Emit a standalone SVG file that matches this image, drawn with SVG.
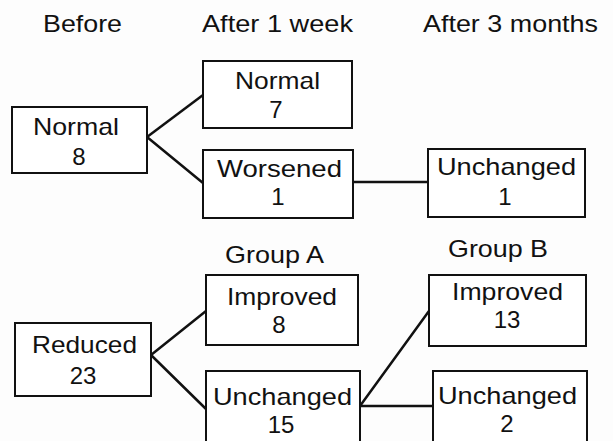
<svg xmlns="http://www.w3.org/2000/svg" width="613" height="441" viewBox="0 0 613 441">
  <style>
    text { font-family: "Liberation Sans", Arial, Helvetica, sans-serif; font-size: 24px; fill: #111; }
    .w { text-anchor: start; }
    .n { text-anchor: middle; }
    .box { fill: #fff; stroke: #111; stroke-width: 2; }
    .conn { stroke: #111; stroke-width: 2.5; fill: none; stroke-linecap: round; }
  </style>
  <rect x="0" y="0" width="613" height="441" fill="#fdfdfd"/>
  <g id="headers">
    <text class="w" x="43" y="32" textLength="79" lengthAdjust="spacingAndGlyphs">Before</text>
    <text class="w" x="202" y="32" textLength="151" lengthAdjust="spacingAndGlyphs">After 1 week</text>
    <text class="w" x="423" y="32" textLength="175" lengthAdjust="spacingAndGlyphs">After 3 months</text>
    <text class="w" x="225" y="263" textLength="99" lengthAdjust="spacingAndGlyphs">Group A</text>
    <text class="w" x="448" y="257" textLength="100" lengthAdjust="spacingAndGlyphs">Group B</text>
  </g>
  <g id="connectors">
    <line class="conn" x1="147" y1="137" x2="203" y2="95"/>
    <line class="conn" x1="147" y1="137" x2="203" y2="183"/>
    <line class="conn" x1="353" y1="182" x2="428" y2="182"/>
    <line class="conn" x1="151" y1="355" x2="206" y2="311"/>
    <line class="conn" x1="151" y1="355" x2="206" y2="409"/>
    <line class="conn" x1="360" y1="406" x2="429" y2="311"/>
    <line class="conn" x1="360" y1="406" x2="433" y2="406"/>
  </g>
  <g id="normal8">
    <rect class="box" x="12" y="107" width="135" height="66"/>
    <text class="w" x="33" y="135" textLength="86" lengthAdjust="spacingAndGlyphs">Normal</text>
    <text class="n" x="79" y="165">8</text>
  </g>
  <g id="normal7">
    <rect class="box" x="203" y="61" width="149" height="67"/>
    <text class="w" x="235" y="89" textLength="85" lengthAdjust="spacingAndGlyphs">Normal</text>
    <text class="n" x="276" y="118">7</text>
  </g>
  <g id="worsened1">
    <rect class="box" x="203" y="150" width="150" height="68"/>
    <text class="w" x="217" y="177" textLength="125" lengthAdjust="spacingAndGlyphs">Worsened</text>
    <text class="n" x="278" y="205">1</text>
  </g>
  <g id="unchanged1">
    <rect class="box" x="428" y="149" width="157" height="68"/>
    <text class="w" x="437" y="175" textLength="139" lengthAdjust="spacingAndGlyphs">Unchanged</text>
    <text class="n" x="505" y="205">1</text>
  </g>
  <g id="reduced23">
    <rect class="box" x="15" y="323" width="136" height="73"/>
    <text class="w" x="32" y="353" textLength="105" lengthAdjust="spacingAndGlyphs">Reduced</text>
    <text class="n" x="83" y="384">23</text>
  </g>
  <g id="improved8">
    <rect class="box" x="206" y="275" width="152" height="70"/>
    <text class="w" x="227" y="305" textLength="110" lengthAdjust="spacingAndGlyphs">Improved</text>
    <text class="n" x="279" y="333">8</text>
  </g>
  <g id="unchanged15">
    <rect class="box" x="206" y="371" width="154" height="80"/>
    <text class="w" x="213" y="405" textLength="139" lengthAdjust="spacingAndGlyphs">Unchanged</text>
    <text class="n" x="281" y="433">15</text>
  </g>
  <g id="improved13">
    <rect class="box" x="429" y="275" width="157" height="71"/>
    <text class="w" x="452" y="300" textLength="111" lengthAdjust="spacingAndGlyphs">Improved</text>
    <text class="n" x="507" y="328">13</text>
  </g>
  <g id="unchanged2">
    <rect class="box" x="433" y="371" width="154" height="80"/>
    <text class="w" x="438" y="404" textLength="139" lengthAdjust="spacingAndGlyphs">Unchanged</text>
    <text class="n" x="507" y="432">2</text>
  </g>
</svg>
